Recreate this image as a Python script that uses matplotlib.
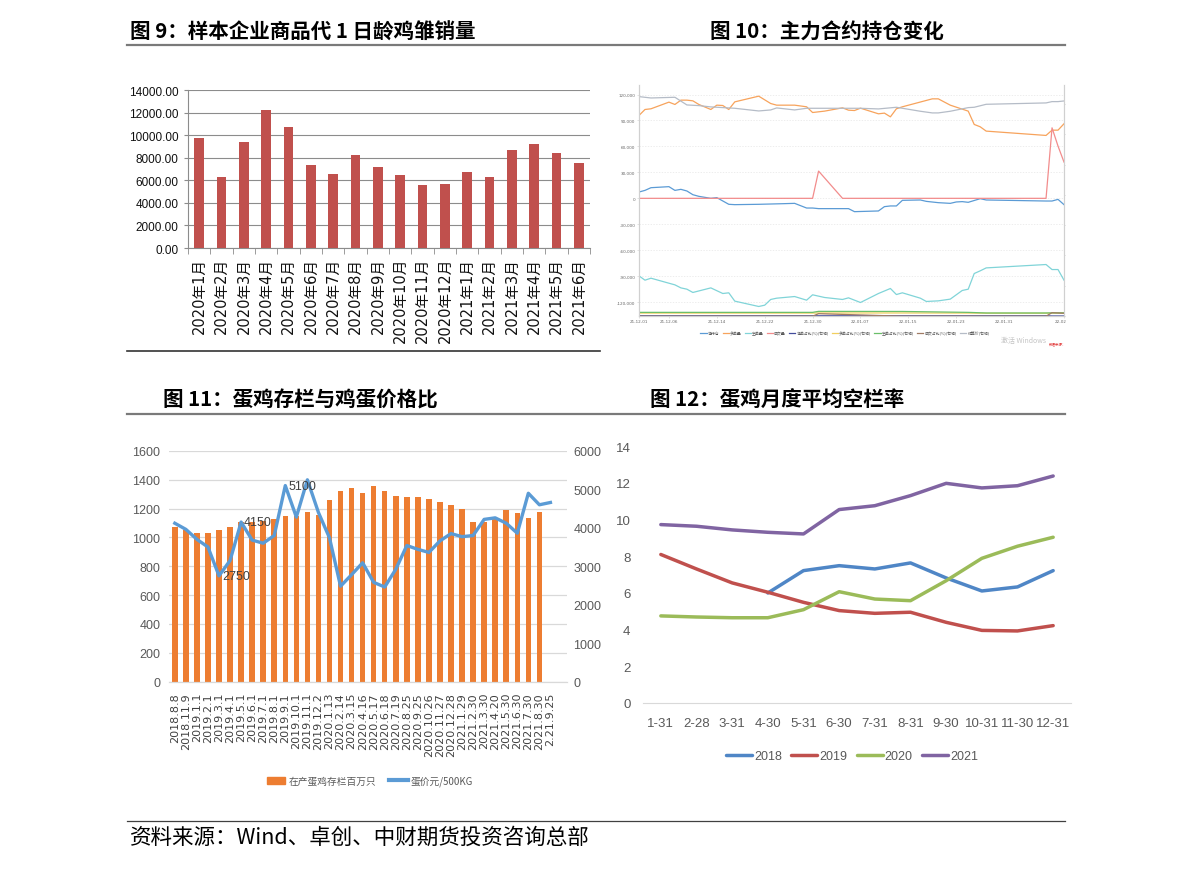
import matplotlib
matplotlib.use("Agg")
import matplotlib.pyplot as plt
import numpy as np
from matplotlib.lines import Line2D
from matplotlib.patches import Patch, Rectangle

plt.rcParams["font.family"] = ["DejaVu Sans", "Noto Sans CJK SC"]
plt.rcParams["axes.unicode_minus"] = False
CJK = ["Noto Sans CJK SC", "DejaVu Sans"]
NARROW = ["Liberation Sans Narrow", "Liberation Sans", "Noto Sans CJK SC"]

W, H = 1191, 870

# ---- 图9 data
months1 = ["2020年1月", "2020年2月", "2020年3月", "2020年4月", "2020年5月", "2020年6月",
           "2020年7月", "2020年8月", "2020年9月", "2020年10月", "2020年11月", "2020年12月",
           "2021年1月", "2021年2月", "2021年3月", "2021年4月", "2021年5月", "2021年6月"]
sales1 = [9750, 6250, 9400, 12200, 10750, 7350, 6600, 8250, 7200, 6500, 5620, 5680,
          6750, 6270, 8670, 9230, 8400, 7490]

# ---- 图10 data (x = days since 2021-12-01)
tick_days2 = [0, 5, 13, 21, 29, 37, 45, 53, 61, 71]
tick_labels2 = ["21-12-01", "21-12-06", "21-12-14", "21-12-22", "21-12-30", "22-01-07",
                "22-01-15", "22-01-23", "22-01-31", "22-02-10"]
net_days = [0, 1, 2, 5, 6, 7, 8, 9, 10, 12, 13, 15, 16, 20, 24, 26, 28, 29, 30, 35, 36, 40,
            41, 42, 43, 44, 47, 48, 50, 52, 53, 54, 55, 57, 58, 68, 69, 70, 71]
net_pos = [7300, 9200, 12300, 13500, 9200, 10400, 8500, 4200, 2300, 0, 800, -6900, -7300,
           -6900, -6200, -5800, -11200, -11200, -11900, -11900, -15400, -14600, -9600, -8800,
           -8800, -2300, -1900, -3500, -5000, -5800, -4200, -3800, -4600, -400, -1900, -3100,
           -3100, -1200, -7300]
long_days = [0, 1, 2, 5, 6, 7, 8, 9, 10, 12, 13, 14, 15, 16, 20, 22, 23, 26, 28, 29, 31, 34,
             35, 36, 37, 40, 41, 42, 43, 44, 49, 50, 52, 55, 56, 57, 58, 68, 69, 70, 71]
long_vol = [95800, 102700, 103500, 111200, 108500, 113500, 113500, 112700, 108500, 102700,
            107700, 107300, 102700, 111500, 118100, 109600, 107700, 107700, 105800, 99200,
            100800, 104600, 101900, 101500, 104200, 97700, 98500, 94200, 103500, 105800,
            115000, 115000, 107700, 100800, 85400, 82700, 77700, 72700, 78800, 78800, 86200]
short_days = [0, 1, 2, 5, 6, 7, 8, 9, 12, 14, 15, 16, 20, 21, 22, 23, 26, 28, 29, 31, 34, 35,
              37, 40, 42, 43, 44, 47, 48, 50, 52, 54, 55, 56, 57, 58, 68, 69, 70, 71]
short_vol = [-89600, -94600, -92300, -98100, -100000, -103500, -105000, -108800, -103500,
             -110000, -109200, -118800, -125000, -123500, -116900, -115400, -113500, -117700,
             -111500, -114600, -116900, -115000, -120400, -110000, -104200, -111200, -109200,
             -115400, -119200, -118500, -116500, -106500, -105000, -86900, -83800, -80400,
             -76500, -82300, -82300, -94600]
trade_days = [0, 29, 30, 34, 68, 69, 70, 71]
trade_vol = [0, 0, 31500, 0, 0, 81500, 60400, 41900]
settle_days = [0, 2, 6, 8, 10, 12, 16, 20, 22, 23, 26, 28, 34, 37, 40, 43, 47, 49, 50, 52, 55,
               56, 58, 68, 69, 70, 71]
settle = [4345, 4318, 4332, 4180, 4167, 4141, 4114, 4061, 4081, 4121, 4081, 4114, 4114, 4114,
          4101, 4134, 4055, 4022, 4022, 4055, 4127, 4134, 4193, 4220, 4246, 4246, 4259]
ratio_days = [0, 29, 30, 44, 55, 58, 68, 69, 71]
net_ratio = [4, 4, 4, 4, 4, 4, 4, 0, 0]
long_ratio = [58, 58, 60, 60, 58, 55, 55, 58, 60]
short_ratio = [72, 72, 92, 90, 72, 60, 60, 62, 62]
trade_ratio = [-4, -4, 46, -4, -4, -4, -4, 66, 53]

# ---- 图11 data
dates3 = ["2018.8.8", "2018.11.9", "2019.1.1", "2019.2.1", "2019.3.1", "2019.4.1", "2019.5.1",
          "2019.6.1", "2019.7.1", "2019.8.1", "2019.9.1", "2019.10.1", "2019.11.1", "2019.12.2",
          "2020.1.13", "2020.2.14", "2020.3.15", "2020.4.16", "2020.5.17", "2020.6.18",
          "2020.7.19", "2020.8.25", "2020.9.25", "2020.10.26", "2020.11.27", "2020.12.28",
          "2021.1.29", "2021.2.30", "2021.3.30", "2021.4.20", "2021.5.30", "2021.6.30",
          "2021.7.30", "2021.8.30", "2.21.9.25"]
layers3 = [1070, 1050, 1030, 1030, 1055, 1070, 1110, 1110, 1115, 1130, 1150, 1150, 1180, 1155,
           1260, 1325, 1340, 1310, 1360, 1325, 1290, 1280, 1284, 1270, 1245, 1225, 1195, 1105,
           1105, 1130, 1190, 1170, 1135, 1175]
price3 = [4120, 3960, 3700, 3500, 2750, 3150, 4150, 3680, 3600, 3800, 5100, 4280, 5250, 4400,
          3740, 2480, 2780, 3090, 2580, 2460, 2920, 3540, 3440, 3360, 3660, 3850, 3770, 3800,
          4220, 4260, 4120, 3860, 4900, 4600, 4660]
marked3 = {4: "2750", 6: "4150", 10: "5100"}

# ---- 图12 data
months4 = ["1-31", "2-28", "3-31", "4-30", "5-31", "6-30", "7-31", "8-31", "9-30", "10-31",
           "11-30", "12-31"]
y2018 = [np.nan, np.nan, np.nan, 6.0, 7.22, 7.49, 7.31, 7.64, 6.82, 6.11, 6.33, 7.22]
y2019 = [8.1, 7.31, 6.55, 6.04, 5.49, 5.04, 4.89, 4.95, 4.4, 3.96, 3.93, 4.22]
y2020 = [4.75, 4.69, 4.65, 4.65, 5.09, 6.07, 5.67, 5.58, 6.67, 7.89, 8.55, 9.04]
y2021 = [9.73, 9.64, 9.44, 9.31, 9.22, 10.55, 10.76, 11.31, 11.98, 11.73, 11.85, 12.38]


def box(l, t, r, b):
    return [l / W, 1 - b / H, (r - l) / W, (b - t) / H]


def hline(fig, x0, x1, y, color, lw):
    fig.add_artist(Line2D([x0 / W, x1 / W], [1 - y / H, 1 - y / H], transform=fig.transFigure,
                          color=color, lw=lw))


fig = plt.figure(figsize=(W / 100, H / 100), dpi=100)

# titles and rules
title_kw = dict(family=CJK, fontsize=14.8, fontweight="bold", va="center", ha="left")
fig.text(130 / W, 1 - 32 / H, "图 9：样本企业商品代 1 日龄鸡雏销量", **title_kw)
fig.text(710 / W, 1 - 32 / H, "图 10：主力合约持仓变化", **title_kw)
fig.text(163 / W, 1 - 400 / H, "图 11：蛋鸡存栏与鸡蛋价格比", **title_kw)
fig.text(650 / W, 1 - 400 / H, "图 12：蛋鸡月度平均空栏率", **title_kw)
hline(fig, 127, 1065, 46, "#7a7a7a", 1.6)
hline(fig, 127, 1065, 415, "#7a7a7a", 1.6)
hline(fig, 127, 600, 352, "#333333", 1.2)
hline(fig, 127, 1065, 822, "#404040", 0.9)
fig.text(130 / W, 1 - 838 / H, "资料来源：Wind、卓创、中财期货投资咨询总部", family=CJK,
         fontsize=15.5, va="center", ha="left")

# ---------------- 图9
ax1 = fig.add_axes(box(188, 91, 590, 249))
x1 = np.arange(len(sales1))
ax1.bar(x1, sales1, width=0.42, color="#c0504d", zorder=3)
ax1.set_xlim(-0.5, len(sales1) - 0.5)
ax1.set_ylim(0, 14000)
ax1.set_yticks(np.arange(0, 14001, 2000))
ax1.set_yticklabels([f"{v:.2f}" for v in np.arange(0, 14001, 2000)], family=NARROW,
                    fontsize=8.5, color="#111111")
ax1.yaxis.grid(True, color="#8c8c8c", lw=0.8)
ax1.set_axisbelow(True)
ax1.set_xticks(x1)
ax1.set_xticklabels(months1, rotation=90, fontsize=10.5, color="#111111", va="top")
ax1.set_xticks(np.arange(-0.5, len(sales1)), minor=True)
ax1.tick_params(axis="x", which="major", length=0, pad=6.5)
ax1.tick_params(axis="x", which="minor", length=4, color="#8c8c8c")
ax1.tick_params(axis="y", length=3, color="#8c8c8c", pad=4)
for s in ["top", "right"]:
    ax1.spines[s].set_visible(False)
for s in ["left", "bottom"]:
    ax1.spines[s].set_color("#8c8c8c")

# ---------------- 图10
ax2 = fig.add_axes(box(639, 86, 1064, 317))
ax2r = ax2.twinx()
lw2 = 0.9
h = []
h += ax2.plot(net_days, net_pos, color="#5b9bd5", lw=lw2, label="净持仓")
h += ax2.plot(long_days, long_vol, color="#f7a35c", lw=lw2, label="多单量")
h += ax2.plot(short_days, short_vol, color="#80d4d8", lw=lw2, label="空单量")
h += ax2.plot(trade_days, trade_vol, color="#f28c8c", lw=lw2, label="成交量")
h += ax2r.plot(ratio_days, net_ratio, color="#434c9c", lw=lw2, label="净单占比(%)(右轴)")
h += ax2r.plot(ratio_days, long_ratio, color="#f1cf5e", lw=lw2, label="多单占比(%)(右轴)")
h += ax2r.plot(ratio_days, short_ratio, color="#6abf69", lw=lw2, label="空单占比(%)(右轴)")
h += ax2r.plot(ratio_days, trade_ratio, color="#a07b64", lw=lw2, label="成交占比(%)(右轴)")
h += ax2r.plot(settle_days, settle, color="#b5bcc7", lw=lw2, label="结算价(右轴)")
ax2.set_xlim(0, 71)
ax2.set_ylim(-136000, 131000)
ax2r.set_ylim(0, 4575)
lt = np.arange(-120000, 120001, 30000)
ax2.set_yticks(lt)
ax2.set_yticklabels([f"{v:,}" for v in lt], fontsize=3, color="#666666")
rt = np.arange(0, 4201, 600)
ax2r.set_yticks(rt)
ax2r.set_yticklabels([f"{v:,}" for v in rt], fontsize=3, color="#666666")
ax2.set_xticks(tick_days2)
ax2.set_xticklabels(tick_labels2, fontsize=3, color="#666666")
ax2.yaxis.grid(True, color="#e6e6e6", lw=0.5, ls=(0, (2, 2)))
ax2.tick_params(length=1.5, width=0.4, color="#cccccc", pad=1)
ax2r.tick_params(length=1.5, width=0.4, color="#cccccc", pad=1)
for a in (ax2, ax2r):
    a.spines["top"].set_visible(False)
    for s in ["left", "right", "bottom"]:
        a.spines[s].set_color("#d0d0d0")
        a.spines[s].set_linewidth(0.8)
fig.legend(h, [l.get_label() for l in h], loc="center", bbox_to_anchor=(845 / W, 1 - 334 / H),
           ncol=9, frameon=False, handlelength=1.6, handletextpad=0.3,
           columnspacing=0.8, prop={"family": CJK, "size": 2.8}, labelcolor="#555555")
fig.text(1001 / W, 1 - 341 / H, "激活 Windows", fontsize=5, color="#c4c4c4", va="center",
         family=CJK)
fig.text(1049 / W, 1 - 344 / H, "数据来源：", fontsize=2.5, color="#e03030", va="center",
         family=CJK)
fig.add_artist(Rectangle((1066 / W, 1 - 352 / H), (W - 1066) / W, 272 / H,
                         transform=fig.transFigure, color="white", zorder=10))

# ---------------- 图11
ax3 = fig.add_axes(box(169.3, 452, 567, 682.5))
ax3r = ax3.twinx()
x3 = np.arange(len(dates3))
ax3.bar(np.arange(len(layers3)), layers3, width=0.5, color="#ed7d31", zorder=2,
        label="在产蛋鸡存栏百万只")
ax3r.plot(x3, price3, color="#5b9bd5", lw=2.4, solid_joinstyle="round", label="蛋价元/500KG")
for i, txt in marked3.items():
    ax3r.annotate(txt, (i, price3[i]), xytext=(12.2, 0), textcoords="offset points",
                  ha="center", va="center", fontsize=9, color="#404040", family=NARROW)
ax3.set_xlim(-0.5, 35.5)
ax3.set_ylim(0, 1600)
ax3r.set_ylim(0, 6000)
ax3.set_yticks(np.arange(0, 1601, 200))
ax3r.set_yticks(np.arange(0, 6001, 1000))
ax3.yaxis.grid(True, color="#d9d9d9", lw=0.9)
ax3.set_axisbelow(True)
ax3.set_xticks(x3)
ax3.set_xticklabels(dates3, rotation=90, fontsize=8, color="#404040", va="top")
ax3.tick_params(axis="x", length=0, pad=7.5)
ax3.tick_params(axis="y", length=0, pad=6.5, labelsize=9, labelcolor="#595959")
ax3r.tick_params(axis="y", length=0, pad=4.5, labelsize=9, labelcolor="#595959")
for lab in ax3.get_yticklabels() + ax3r.get_yticklabels():
    lab.set_family(NARROW)
for a in (ax3, ax3r):
    for s in ["top", "left", "right"]:
        a.spines[s].set_visible(False)
    a.spines["bottom"].set_color("#d9d9d9")
hb = [Patch(color="#ed7d31"), Line2D([], [], color="#5b9bd5", lw=3)]
fig.legend(hb, ["在产蛋鸡存栏百万只", "蛋价元/500KG"], loc="center",
           bbox_to_anchor=(370 / W, 1 - 782 / H), ncol=2, frameon=False,
           prop={"family": CJK, "size": 7}, handlelength=1.9, handletextpad=0.3,
           columnspacing=1.4, labelcolor="#595959")

# ---------------- 图12
ax4 = fig.add_axes(box(643, 447.3, 1071, 704))
x4 = np.arange(len(months4))
kw4 = dict(lw=2.5, solid_joinstyle="round", solid_capstyle="round")
l4 = []
l4 += ax4.plot(x4, y2018, color="#4f86c6", label="2018", **kw4)
l4 += ax4.plot(x4, y2019, color="#c0504d", label="2019", **kw4)
l4 += ax4.plot(x4, y2020, color="#9bbb59", label="2020", **kw4)
l4 += ax4.plot(x4, y2021, color="#8064a2", label="2021", **kw4)
ax4.set_xlim(-0.5, 11.5)
ax4.set_ylim(0, 14)
ax4.set_yticks(np.arange(0, 15, 2))
ax4.set_xticks(x4)
ax4.set_xticklabels(months4)
ax4.tick_params(axis="x", length=0, pad=10, labelsize=9.5, labelcolor="#595959")
ax4.tick_params(axis="y", length=0, pad=9, labelsize=9.5, labelcolor="#595959")
for lab in ax4.get_xticklabels() + ax4.get_yticklabels():
    lab.set_family(NARROW)
for s in ["top", "left", "right"]:
    ax4.spines[s].set_visible(False)
ax4.spines["bottom"].set_color("#d9d9d9")
fig.legend(l4, ["2018", "2019", "2020", "2021"], loc="center",
           bbox_to_anchor=(852 / W, 1 - 757 / H), ncol=4, frameon=False,
           prop={"family": NARROW, "size": 9}, handlelength=2.1, handletextpad=0.15,
           columnspacing=0.75, labelcolor="#595959")

fig.savefig("out.png", dpi=100)
